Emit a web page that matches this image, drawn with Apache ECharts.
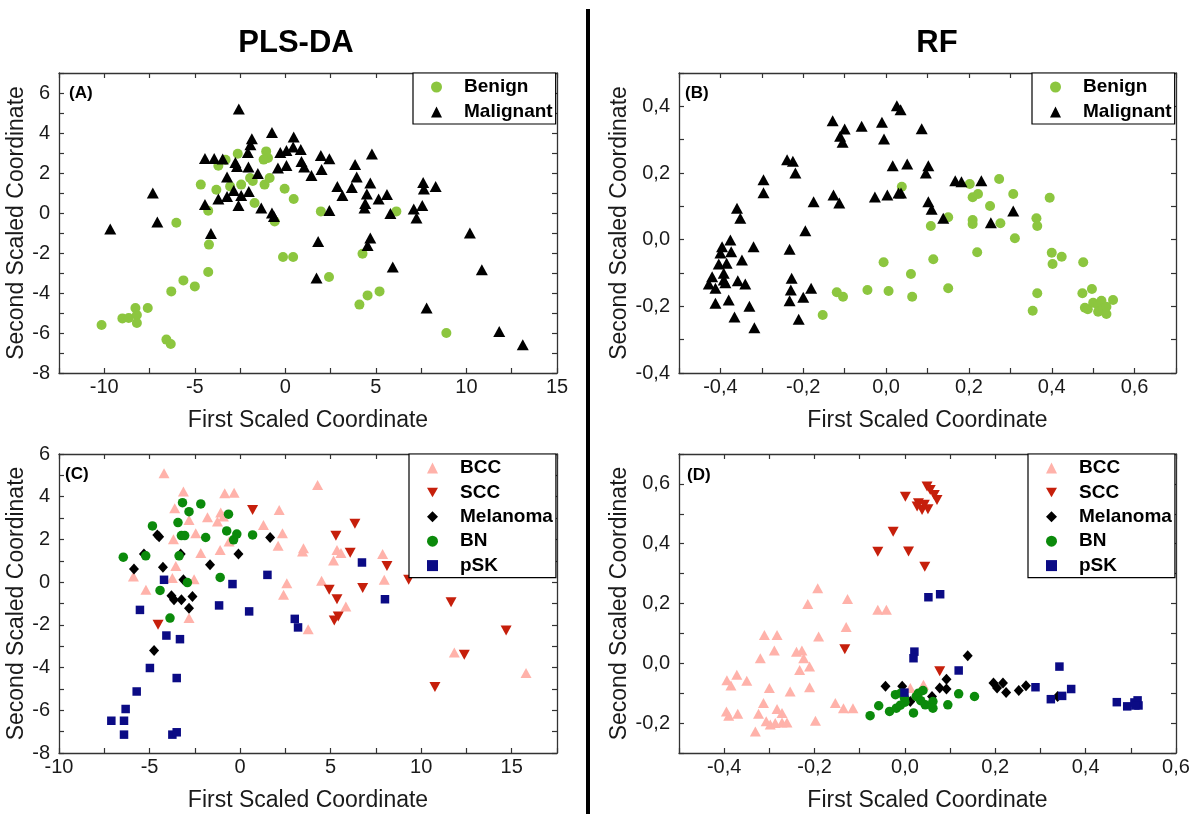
<!DOCTYPE html>
<html>
<head>
<meta charset="utf-8">
<script src="https://cdn.jsdelivr.net/npm/echarts@6/dist/echarts.min.js"></script>
<style>
  html, body { margin: 0; padding: 0; background: #fff; }
  #chart { width: 1194px; height: 814px; }
</style>
</head>
<body>
<div id="chart"></div>
<script>
// ---- Panel (A): PLS-DA, benign vs malignant ----
const benignA = [
  [-10.15,-5.6],[-9.0,-5.27],[-8.65,-5.25],[-8.28,-4.75],[-8.2,-5.1],[-8.2,-5.5],[-7.6,-4.75],
  [-6.57,-6.33],[-6.33,-6.55],[-6.3,-3.92],[-6.02,-0.49],[-5.63,-3.37],[-5.0,-3.67],[-4.67,1.42],
  [-4.26,-2.95],[-4.22,-1.58],[-4.26,0.11],[-3.81,1.16],[-3.7,2.36],[-3.3,2.66],[-3.05,1.33],
  [-2.63,2.96],[-2.44,1.42],[-1.95,1.75],[-1.8,1.6],[-1.7,0.5],[-1.15,1.42],[-1.06,3.08],
  [-0.96,2.75],[-1.2,2.67],[-0.87,1.75],[-0.59,-0.42],[-0.04,1.21],[0.46,0.7],[-0.13,-2.2],
  [0.43,-2.2],[1.96,0.08],[2.41,-3.2],[4.26,-2.04],[4.09,-4.58],[4.54,-4.12],[5.2,-3.92],
  [6.13,0.08],[8.89,-6.0]
];
const malignantA = [
  [-9.67,-0.8],[-7.32,1.0],[-7.07,-0.45],[-2.57,5.2],[-0.74,4.03],[-1.85,3.71],[-1.93,3.41],
  [-2.07,3.03],[-4.44,2.73],[-3.93,2.73],[-3.46,2.7],[-2.76,2.53],[-2.67,2.33],[-2.04,2.3],
  [-1.52,1.97],[-3.22,1.8],[-2.85,1.13],[-2.02,1.07],[-2.44,0.87],[-3.22,0.83],[-3.7,0.7],
  [-4.44,0.42],[-2.59,0.37],[-1.33,0.25],[-0.74,0.0],[-0.63,-0.17],[-4.11,-1.03],[-0.41,2.25],
  [0.06,2.37],[-0.28,3.03],[0.06,3.13],[0.46,3.8],[0.43,3.3],[0.85,3.17],[0.89,2.58],[1.04,2.3],
  [1.44,1.88],[1.96,2.88],[2.43,2.71],[2.0,2.17],[4.78,2.95],[3.85,2.42],[3.94,1.8],[2.87,1.33],
  [3.15,0.87],[3.67,1.28],[4.69,1.5],[4.5,0.95],[4.41,0.47],[4.37,0.25],[5.15,0.7],[5.61,0.92],
  [5.8,-0.03],[2.43,0.13],[7.09,0.2],[7.24,-0.25],[7.56,0.38],[7.61,1.53],[7.65,1.2],[8.3,1.33],
  [4.69,-1.25],[4.54,-1.63],[1.81,-1.42],[1.72,-3.25],[5.93,-2.7],[10.19,-1.0],[10.85,-2.84],
  [7.8,-4.75],[11.81,-5.92],[13.11,-6.59]
];

// ---- Panel (B): RF, benign vs malignant ----
const benignB = [
  [-0.153,-0.226],[-0.119,-0.158],[-0.104,-0.171],[-0.045,-0.151],[-0.006,-0.068],[0.006,-0.154],
  [0.038,0.159],[0.06,-0.103],[0.063,-0.171],[0.108,0.041],[0.114,-0.059],[0.15,0.067],[0.15,-0.146],
  [0.202,0.167],[0.209,0.127],[0.222,0.137],[0.209,0.059],[0.209,0.047],[0.22,-0.038],[0.251,0.101],
  [0.273,0.182],[0.276,0.049],[0.307,0.137],[0.311,0.004],[0.363,0.064],[0.365,0.041],[0.395,0.126],
  [0.4,-0.039],[0.402,-0.073],[0.424,-0.051],[0.365,-0.161],[0.354,-0.213],[0.476,-0.068],
  [0.474,-0.161],[0.497,-0.148],[0.48,-0.204],[0.487,-0.209],[0.5,-0.189],[0.512,-0.196],
  [0.52,-0.183],[0.512,-0.216],[0.524,-0.206],[0.532,-0.223],[0.548,-0.181],[0.532,-0.201]
];
const malignantB = [
  [-0.376,-0.001],[-0.396,-0.021],[-0.374,-0.036],[-0.404,-0.073],[-0.392,-0.101],[-0.42,-0.111],
  [-0.428,-0.133],[-0.412,-0.146],[-0.388,-0.129],[-0.412,-0.191],[-0.38,-0.181],[-0.36,0.094],
  [-0.352,0.064],[-0.348,-0.061],[-0.358,-0.123],[-0.34,-0.133],[-0.33,-0.2],[-0.366,-0.232],
  [-0.318,-0.264],[-0.32,-0.021],[-0.296,0.18],[-0.296,0.141],[-0.239,0.24],[-0.225,0.235],
  [-0.219,0.2],[-0.175,0.114],[-0.195,0.027],[-0.233,-0.029],[-0.228,-0.116],[-0.23,-0.151],
  [-0.233,-0.183],[-0.2,-0.173],[-0.181,-0.146],[-0.211,-0.239],[-0.129,0.357],[-0.111,0.31],
  [-0.1,0.332],[-0.105,0.292],[-0.059,0.34],[-0.01,0.352],[-0.005,0.302],[0.016,0.222],
  [-0.127,0.134],[-0.113,0.11],[-0.027,0.128],[0.003,0.134],[0.03,0.14],[0.026,0.402],[0.035,0.39],
  [0.086,0.333],[0.051,0.227],[0.102,0.222],[0.096,0.2],[0.036,0.14],[0.102,0.114],[0.11,0.091],
  [0.138,0.064],[0.167,0.177],[0.182,0.174],[0.23,0.177],[0.253,0.051],[0.307,0.086],
  [-0.385,-0.071],[-0.392,-0.121],[-0.4,-0.04]
];

// ---- Panel (C): PLS-DA, five lesion classes ----
const bccC = [
  [-4.2,5.1],[-3.13,4.24],[-3.61,3.46],[-2.82,2.91],[-2.45,2.29],[-3.68,2.01],[-2.17,1.36],
  [-3.55,0.76],[-3.74,0.19],[-2.54,0.14],[-5.89,0.26],[-5.2,-0.36],[-2.82,-1.68],[-1.8,3.04],
  [-1.25,2.84],[-1.1,1.51],[-0.85,4.16],[-0.33,4.19],[-1.07,3.26],[-0.92,3.07],[-0.61,1.9],
  [1.29,2.68],[2.16,3.38],[2.34,2.29],[2.1,1.7],[2.58,-0.05],[2.4,-0.59],[3.45,1.43],[3.5,1.59],
  [4.28,4.55],[5.35,1.51],[5.57,1.36],[5.16,1.01],[7.87,1.32],[7.96,0.11],[4.5,0.07],[5.84,-1.14],
  [3.76,-2.2],[11.83,-3.29],[15.79,-4.26]
];
const sccC = [
  [0.69,3.38],[-4.53,-2.0],[6.34,2.73],[5.29,2.17],[6.08,1.38],[8.11,0.76],[9.31,0.11],[4.92,-0.36],
  [6.77,-0.28],[5.35,-0.8],[11.65,-0.94],[5.42,-1.61],[5.2,-1.8],[14.69,-2.26],[12.38,-3.4],[10.76,-4.91]
];
const melC = [
  [-4.57,2.21],[-4.47,2.12],[-5.31,1.32],[-5.86,0.62],[-4.26,0.7],[-3.28,1.32],[-3.13,0.11],
  [-1.66,0.81],[-0.09,1.32],[1.66,2.09],[-3.79,-0.64],[-3.65,-0.83],[-3.24,-0.83],[-2.63,-0.67],
  [-2.82,-1.22],[-4.75,-3.2]
];
const bnC = [
  [-6.45,1.17],[-5.21,1.23],[-4.84,2.63],[-4.42,-0.39],[-3.87,-1.68],[-3.43,2.79],[-3.18,3.72],
  [-2.82,3.3],[-3.24,2.18],[-3.06,2.18],[-3.37,1.23],[-2.91,-0.02],[-2.17,3.66],[-1.9,2.09],
  [-1.1,0.22],[-0.74,2.4],[-0.64,3.18],[-0.36,1.98],[-0.18,2.25],[0.69,2.21]
];
const pskC = [
  [-4.2,0.11],[-5.53,-1.3],[-4.07,-2.5],[-3.32,-2.67],[-4.98,-4.02],[-3.5,-4.49],[-5.71,-5.12],
  [-6.32,-5.94],[-7.11,-6.49],[-6.41,-6.49],[-6.41,-7.14],[-3.74,-7.14],[-3.5,-7.03],[-1.16,-1.09],
  [-0.42,-0.09],[0.5,-1.37],[1.51,0.34],[3.02,-1.72],[3.2,-2.12],[6.73,0.92],[8.0,-0.8]
];

// ---- Panel (D): RF, five lesion classes ----
const bccD = [
  [-0.394,-0.057],[-0.385,-0.074],[-0.372,-0.038],[-0.35,-0.058],[-0.395,-0.161],[-0.39,-0.175],
  [-0.37,-0.169],[-0.331,-0.228],[-0.324,-0.169],[-0.313,-0.133],[-0.311,0.095],[-0.283,0.095],
  [-0.32,0.017],[-0.289,0.043],[-0.3,-0.083],[-0.307,-0.194],[-0.298,-0.205],[-0.283,-0.153],
  [-0.287,-0.2],[-0.272,-0.166],[-0.272,-0.198],[-0.261,-0.198],[-0.254,-0.094],[-0.24,0.039],
  [-0.228,0.043],[-0.224,0.017],[-0.233,-0.022],[-0.211,-0.011],[-0.211,-0.08],[-0.215,0.198],
  [-0.193,0.251],[-0.191,0.09],[-0.198,-0.192],[-0.154,-0.133],[-0.136,-0.15],[-0.115,-0.15],
  [-0.127,0.215],[-0.13,0.121],[-0.06,0.179],[-0.041,0.179],[0.012,-0.083],[0.041,-0.072]
];
const sccD = [
  [-0.133,0.047],[-0.06,0.373],[-0.026,0.44],[0.001,0.557],[0.049,0.591],[0.056,0.58],[0.065,0.563],
  [0.071,0.546],[0.03,0.535],[0.027,0.524],[0.038,0.513],[0.051,0.515],[0.043,0.53],[0.008,0.374],
  [0.044,0.323],[0.077,-0.027]
];
const melD = [
  [-0.043,-0.077],[-0.006,-0.077],[0.012,-0.128],[0.06,-0.111],[0.077,-0.083],[0.092,-0.053],
  [0.092,-0.086],[0.139,0.025],[0.196,-0.066],[0.204,-0.083],[0.217,-0.066],[0.224,-0.098],
  [0.252,-0.091],[0.268,-0.075],[0.338,-0.111]
];
const bnD = [
  [-0.077,-0.175],[-0.058,-0.142],[-0.034,-0.161],[-0.019,-0.15],[-0.021,-0.105],[-0.009,-0.1],
  [-0.001,-0.116],[0.019,-0.166],[0.025,-0.111],[0.03,-0.1],[0.04,-0.091],[0.045,-0.139],
  [0.062,-0.128],[0.062,-0.15],[0.095,-0.139],[0.119,-0.102],[0.154,-0.111],[0.0,-0.13],
  [0.035,-0.125],[-0.01,-0.14]
];
const pskD = [
  [0.052,0.221],[0.078,0.231],[0.021,0.039],[0.019,0.017],[-0.001,-0.098],[0.119,-0.024],
  [0.289,-0.08],[0.342,-0.011],[0.323,-0.12],[0.348,-0.109],[0.368,-0.086],[0.469,-0.13],
  [0.492,-0.144],[0.508,-0.131],[0.515,-0.124],[0.517,-0.141],[0.51,-0.141]
];

const binaryNames = ['Benign', 'Malignant'];
const classNames = ['BCC', 'SCC', 'Melanoma', 'BN', 'pSK'];
const methodTitles = ['PLS-DA', 'RF'];
const panelTags = ['(A)', '(B)', '(C)', '(D)'];
const xName = 'First Scaled Coordinate';
const yName = 'Second Scaled Coordinate';

const FONT = '"Liberation Sans", Arial, Helvetica, sans-serif';
const INK = '#1a1a1a';
const AXIS = '#333';

const COLORS = {
  Benign: '#8cc63f', Malignant: '#000000',
  BCC: '#ffb2aa', SCC: '#c61f0b', Melanoma: '#000000', BN: '#0b8a0b', pSK: '#0b0b85'
};

// label formatters: show every other tick
const intLabel = step => v => (Math.abs(Math.round(v / step) * step - v) < 1e-6 ? String(Math.round(v)) : '');
const decLabel = v => {
  const k = Math.round(v * 10);
  return k % 2 === 0 ? (k / 10).toFixed(1).replace('.', ',') : '';
};

const grids = [
  { left: 59, top: 73, width: 498, height: 300 },
  { left: 679, top: 73, width: 497, height: 300 },
  { left: 59, top: 454, width: 498, height: 299 },
  { left: 679, top: 454, width: 497, height: 299 }
];

const ranges = [
  { x: [-12.5, 15, 2.5], y: [-8, 7, 1], fx: intLabel(5), fy: intLabel(2), yGap: 29, xGap: 36 },
  { x: [-0.5, 0.7, 0.1], y: [-0.4, 0.5, 0.1], fx: decLabel, fy: decLabel, yGap: 45, xGap: 36 },
  { x: [-10, 17.5, 2.5], y: [-8, 6, 1], fx: intLabel(5), fy: intLabel(2), yGap: 29, xGap: 36 },
  { x: [-0.5, 0.6, 0.1], y: [-0.3, 0.7, 0.1], fx: decLabel, fy: decLabel, yGap: 45, xGap: 36 }
];

const xAxes = [], yAxes = [];
const lineStyle = { color: AXIS, width: 1.3 };
const tick = { show: true, inside: true, length: 5, lineStyle: { color: AXIS, width: 1.2 } };
ranges.forEach((r, gi) => {
  const base = { type: 'value', gridIndex: gi, splitLine: { show: false },
    axisLine: { show: true, onZero: false, lineStyle }, axisTick: tick };
  xAxes.push(Object.assign({}, base, {
    position: 'bottom', min: r.x[0], max: r.x[1], interval: r.x[2],
    axisLabel: { formatter: r.fx, fontSize: 20, color: INK, fontFamily: FONT, margin: 4,
      showMinLabel: true, showMaxLabel: true },
    name: xName, nameLocation: 'middle', nameGap: r.xGap,
    nameTextStyle: { fontSize: 23, color: INK, fontFamily: FONT }
  }));
  xAxes.push(Object.assign({}, base, {
    position: 'top', min: r.x[0], max: r.x[1], interval: r.x[2], axisLabel: { show: false }
  }));
  yAxes.push(Object.assign({}, base, {
    position: 'left', min: r.y[0], max: r.y[1], interval: r.y[2],
    axisLabel: { formatter: r.fy, fontSize: 20, color: INK, fontFamily: FONT, margin: 9,
      showMinLabel: true, showMaxLabel: true },
    name: yName, nameLocation: 'middle', nameGap: r.yGap,
    nameTextStyle: { fontSize: 23, color: INK, fontFamily: FONT }
  }));
  yAxes.push(Object.assign({}, base, {
    position: 'right', min: r.y[0], max: r.y[1], interval: r.y[2], axisLabel: { show: false }
  }));
});

// point-down triangle for SCC, used by both the marks and the legend key
const DOWN_TRIANGLE = 'path://M0,0L12,0L6,10.4Z';

const SYMBOLS = {
  Benign: { symbol: 'circle', size: 10 },
  Malignant: { symbol: 'triangle', size: [12, 11] },
  BCC: { symbol: 'triangle', size: [11, 10] },
  SCC: { symbol: DOWN_TRIANGLE, size: [11, 10] },
  Melanoma: { symbol: 'diamond', size: [10, 11] },
  BN: { symbol: 'circle', size: 9.5 },
  pSK: { symbol: 'rect', size: 8.5 }
};

function scatter(name, gi, data) {
  const s = SYMBOLS[name];
  return {
    type: 'scatter', name, data,
    xAxisIndex: gi * 2, yAxisIndex: gi * 2,
    symbol: s.symbol, symbolSize: s.size,
    itemStyle: { color: COLORS[name], opacity: 1 },
    emphasis: { disabled: true }
  };
}

const series = [
  scatter('Benign', 0, benignA), scatter('Malignant', 0, malignantA),
  scatter('Benign', 1, benignB), scatter('Malignant', 1, malignantB),
  scatter('BCC', 2, bccC), scatter('SCC', 2, sccC), scatter('Melanoma', 2, melC),
  scatter('BN', 2, bnC), scatter('pSK', 2, pskC),
  scatter('BCC', 3, bccD), scatter('SCC', 3, sccD), scatter('Melanoma', 3, melD),
  scatter('BN', 3, bnD), scatter('pSK', 3, pskD)
];

function legendBox(names, left, top, gap) {
  return {
    data: names,
    orient: 'vertical', left, top,
    itemWidth: 11, itemHeight: 11, itemGap: gap,
    padding: [4, 3, 2, 18],
    backgroundColor: '#fff', borderColor: '#000', borderWidth: 1.2,
    selectedMode: false,
    textStyle: { fontSize: 19, fontWeight: 'bold', color: '#000', fontFamily: FONT,
      lineHeight: 20, padding: [0, 0, 0, 17] }
  };
}

const legends = [
  legendBox(binaryNames, 413, 73, 5),
  legendBox(binaryNames, 1032, 73, 5),
  legendBox(classNames, 409, 454, 4.4),
  legendBox(classNames, 1028, 454, 4.4)
];

const tagPos = [[69, 85], [685, 85], [65, 466], [687, 467]];
const graphic = [
  { type: 'rect', left: 586, top: 9, shape: { width: 4, height: 805 }, style: { fill: '#000' } },
  { type: 'text', x: 296, y: 43, style: { text: methodTitles[0], fontSize: 31, fontWeight: 'bold',
      fontFamily: FONT, fill: '#000', align: 'center', verticalAlign: 'middle' } },
  { type: 'text', x: 937, y: 43, style: { text: methodTitles[1], fontSize: 31, fontWeight: 'bold',
      fontFamily: FONT, fill: '#000', align: 'center', verticalAlign: 'middle' } }
].concat(panelTags.map((t, i) => ({
  type: 'text', x: tagPos[i][0], y: tagPos[i][1], z: 10,
  style: { text: t, fontSize: 17, fontWeight: 'bold', fontFamily: FONT, fill: '#000',
    align: 'left', verticalAlign: 'top' }
})));

const chart = echarts.init(document.getElementById('chart'), null, { renderer: 'canvas' });
chart.setOption({
  animation: false,
  backgroundColor: '#fff',
  grid: grids,
  xAxis: xAxes,
  yAxis: yAxes,
  legend: legends,
  series,
  graphic
});
</script>
</body>
</html>
